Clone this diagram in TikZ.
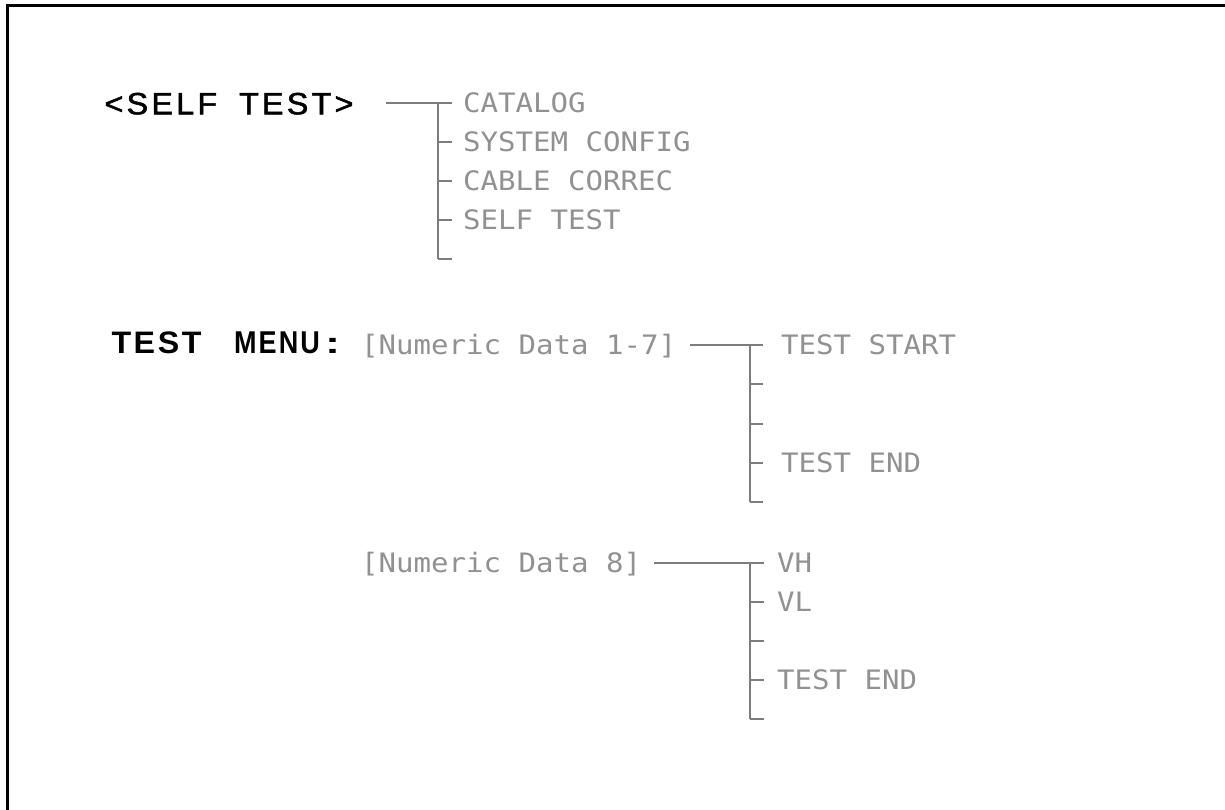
\documentclass[tikz,border=0pt]{standalone}
\usepackage{fontspec}
\setmainfont{Liberation Sans}
\newfontfamily\monofnt{DejaVu Sans Mono}
\newfontfamily\titlefnt[FakeBold=1.6, LetterSpace=10]{Liberation Sans}
\newfontfamily\menufnt[LetterSpace=8]{Liberation Sans Bold}
\definecolor{linegray}{RGB}{125,125,125}
\definecolor{txtgray}{RGB}{145,145,145}
\newcommand\gtext[1]{\scalebox{1}[0.92]{\fontsize{29.07}{30}\monofnt #1}}
\begin{document}
\begin{tikzpicture}[x=1pt,y=-1pt,
  conn/.style={draw=linegray, line width=1.4pt},
  glabel/.style={anchor=base west, inner sep=0pt, outer sep=0pt, text=txtgray},
  blabel/.style={anchor=base west, inner sep=0pt, outer sep=0pt, text=black},
  frame/.style={draw=black, line width=3pt}]
\useasboundingbox (0,0) rectangle (1225,810);
% frame (top and left edges)
\coordinate (fb) at (7.5,812);
\coordinate (fc) at (7.5,5.3);
\coordinate (fr) at (1227,5.3);
\draw[frame] (fb) -- (fc) -- (fr);

% ---------- section 1 ----------
\node[blabel] (selftest) at (104.5,114.3)
  {\resizebox{249pt}{21.5pt}{\fontsize{30}{30}\titlefnt <SELF\hspace{9pt} TEST>}};
\node[glabel] (cat)  at (463,112.75) {\gtext{CATALOG}};
\node[glabel] (sys)  at (463,151.75) {\gtext{SYSTEM CONFIG}};
\node[glabel] (cab)  at (463,190.75) {\gtext{CABLE CORREC}};
\node[glabel] (slf)  at (463,229.75) {\gtext{SELF TEST}};

\coordinate (a0) at (386,103);
\coordinate (a1) at (438,103);
\coordinate (ae) at (452,103);
\draw[conn] (a0) -- (ae);
\coordinate (a5) at (438,259);
\draw[conn] (a1) -- (a5);
\foreach \i/\yy in {2/142,3/181,4/220,5/259}{
  \coordinate (at\i) at (438,\yy);
  \coordinate (ak\i) at (452,\yy);
  \draw[conn] (at\i) -- (ak\i);
}

% ---------- section 2 ----------
\node[blabel] (test) at (111.5,353.4)
  {\resizebox{90pt}{21.7pt}{\fontsize{30}{30}\menufnt TEST}};
\node[blabel] (menu) at (234,353.4)
  {\resizebox{86pt}{21.7pt}{\fontsize{30}{30}\menufnt MENU}};
\node[blabel] (colon) at (325,353.4)
  {\scalebox{1.5}[1]{\fontsize{30}{30}\bfseries :}};
\node[glabel] (nd17) at (361,354.75) {\gtext{[Numeric Data 1-7]}};
\node[glabel] (tst)  at (781,354.75) {\gtext{TEST START}};
\node[glabel] (ten)  at (781,472.75) {\gtext{TEST END}};

\coordinate (b0) at (690,345);
\coordinate (b1) at (750,345);
\coordinate (be) at (763,345);
\draw[conn] (b0) -- (be);
\coordinate (b5) at (750,502);
\draw[conn] (b1) -- (b5);
\foreach \i/\yy in {2/384,3/424,4/463,5/502}{
  \coordinate (bt\i) at (750,\yy);
  \coordinate (bk\i) at (763,\yy);
  \draw[conn] (bt\i) -- (bk\i);
}

% ---------- section 3 ----------
\node[glabel] (nd8) at (361,572.75) {\gtext{[Numeric Data 8]}};
\node[glabel] (vh)  at (777,572.75) {\gtext{VH}};
\node[glabel] (vl)  at (777,611.75) {\gtext{VL}};
\node[glabel] (te2) at (777,689.75) {\gtext{TEST END}};

\coordinate (c0) at (654,563);
\coordinate (c1) at (750,563);
\coordinate (ce) at (764,563);
\draw[conn] (c0) -- (ce);
\coordinate (c5) at (750,719);
\draw[conn] (c1) -- (c5);
\foreach \i/\yy in {2/602,3/641,4/680,5/719}{
  \coordinate (ct\i) at (750,\yy);
  \coordinate (ck\i) at (764,\yy);
  \draw[conn] (ct\i) -- (ck\i);
}
\end{tikzpicture}
\end{document}
